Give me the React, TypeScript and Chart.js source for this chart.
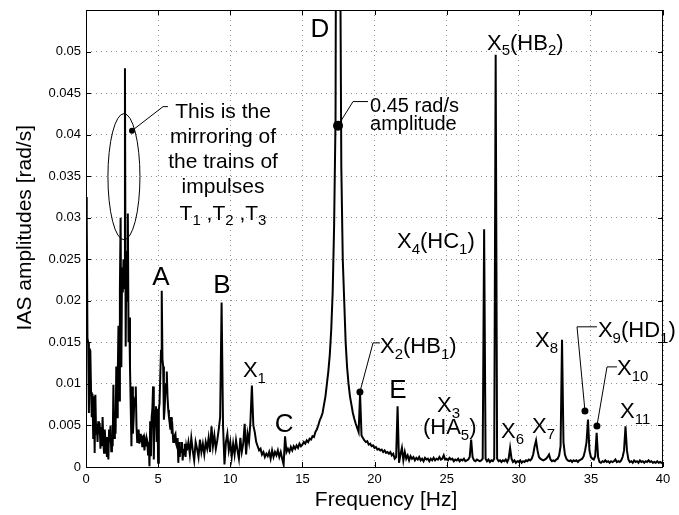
import React, { useEffect, useRef } from "react";
import { Chart, registerables } from "chart.js";

Chart.register(...registerables);

const FONT = "'Liberation Sans', Arial, Helvetica, sans-serif";

// ---- Axis ticks ----
const xTickValues = [0, 5, 10, 15, 20, 25, 30, 35, 40];
const xTickLabels = ["0", "5", "10", "15", "20", "25", "30", "35", "40"];
const yTickValues = [0, 0.005, 0.01, 0.015, 0.02, 0.025, 0.03, 0.035, 0.04, 0.045, 0.05];
const yTickLabels = ["0", "0.005", "0.01", "0.015", "0.02", "0.025", "0.03", "0.035", "0.04", "0.045", "0.05"];

// ---- Spectrum (IAS amplitude, rad/s) ----
// 0.00 .. 7.00 Hz, step 0.05 Hz
const lowBandStart = 0;
const lowBandStep = 0.05;
const lowBandAmp = [
  0.0325, 0.0300, 0.0155, 0.0150, 0.0065, 0.0142, 0.0140, 0.0090, 0.0060, 0.0088,
  0.0035, 0.0085, 0.0017, 0.0087, 0.0040, 0.0052, 0.0030, 0.0055, 0.0040, 0.0053,
  0.0022, 0.0048, 0.0025, 0.0060, 0.0030, 0.0017, 0.0045, 0.0030, 0.0036, 0.0012,
  0.0028, 0.0009, 0.0045, 0.0030, 0.0050, 0.0019, 0.0035, 0.0025, 0.0099, 0.0035,
  0.0060, 0.0040, 0.0121, 0.0060, 0.0109, 0.0170, 0.0080, 0.0215, 0.0300, 0.0120,
  0.0240, 0.0210, 0.0250, 0.0215, 0.0480, 0.0145, 0.0260, 0.0200, 0.0305, 0.0150,
  0.0180, 0.0120, 0.0073, 0.0025, 0.0097, 0.0040, 0.0057, 0.0080, 0.0077, 0.0097,
  0.0049, 0.0030, 0.0033, 0.0045, 0.0028, 0.0040, 0.0030, 0.0038, 0.0025, 0.0035,
  0.0037, 0.0020, 0.0030, 0.0025, 0.0035, 0.0031, 0.0015, 0.0030, 0.0001, 0.0055,
  0.0013, 0.0060, 0.0069, 0.0097, 0.0009, 0.0069, 0.0049, 0.0073, 0.0030, 0.0070,
  0.0005, 0.0069, 0.0077, 0.0110, 0.0140, 0.0212, 0.0130, 0.0121, 0.0057, 0.0070,
  0.0089, 0.0100, 0.0115, 0.0085, 0.0069, 0.0060, 0.0053, 0.0045, 0.0060, 0.0040,
  0.0045, 0.0030, 0.0033, 0.0038, 0.0040, 0.0028, 0.0025, 0.0035, 0.0005, 0.0030,
  0.0012, 0.0025, 0.0018, 0.0030, 0.0008, 0.0022, 0.0015, 0.0028, 0.0012, 0.0025,
  0.0020,
];

// 7.1 .. 16.0 Hz, step 0.1 Hz
const midBandStart = 7.1;
const midBandStep = 0.1;
const midBandAmp = [
  0.0030, 0.0015, 0.0035, 0.0020, 0.0008, 0.0030, 0.0022, 0.0012, 0.0033, 0.0018,
  0.0028, 0.0015, 0.0030, 0.0022, 0.0035, 0.0018, 0.0049, 0.0025, 0.0038, 0.0022,
  0.0032, 0.0045, 0.0060, 0.0198, 0.0050, 0.0003, 0.0030, 0.0040, 0.0020, 0.0030,
  0.0012, 0.0028, 0.0015, 0.0032, 0.0020, 0.0010, 0.0035, 0.0018, 0.0028, 0.0052,
  0.0015, 0.0040, 0.0030, 0.0055, 0.0098, 0.0050, 0.0042, 0.0030, 0.0025, 0.0020,
  0.0022, 0.0015, 0.0018, 0.0012, 0.0016, 0.0013, 0.0018, 0.0010, 0.0020, 0.0012,
  0.0018, 0.0014, 0.0020, 0.0012, 0.0018, 0.0010, 0.0003, 0.0037, 0.0018, 0.0022,
  0.0018, 0.0024, 0.0020, 0.0025, 0.0022, 0.0026, 0.0023, 0.0028, 0.0025, 0.0027,
  0.0030, 0.0028, 0.0032, 0.0030, 0.0034, 0.0033, 0.0037, 0.0036, 0.0042, 0.0045,
];

// 16.1 .. 21.0 Hz, step 0.1 Hz (peak D, 0.45 rad/s)
const dBandStart = 16.1;
const dBandStep = 0.1;
const dBandAmp = [
  0.0050, 0.0056, 0.0060, 0.0065, 0.0075, 0.0085, 0.0100, 0.0115, 0.0135, 0.0165,
  0.0210, 0.0290, 0.0420, 0.1200, 0.4500, 0.0700, 0.0360, 0.0250, 0.0200, 0.0150,
  0.0120, 0.0100, 0.0085, 0.0075, 0.0065, 0.0058, 0.0052, 0.0047, 0.0042, 0.0088,
  0.0038, 0.0035, 0.0032, 0.0030, 0.0031, 0.0027, 0.0028, 0.0025, 0.0026, 0.0023,
  0.0024, 0.0021, 0.0022, 0.0020, 0.0021, 0.0018, 0.0020, 0.0017, 0.0018, 0.0016,
];

// 21.1 .. 40.0 Hz, step 0.1 Hz
const highBandStart = 21.1;
const highBandStep = 0.1;
const highBandAmp = [
  0.0018, 0.0014, 0.0016, 0.0010, 0.0012, 0.0073, 0.0005, 0.0015, 0.0023, 0.0008,
  0.0018, 0.0010, 0.0014, 0.0008, 0.0013, 0.0010, 0.0012, 0.0008, 0.0011, 0.0009,
  0.0012, 0.0008, 0.0010, 0.0007, 0.0011, 0.0009, 0.0010, 0.0007, 0.0010, 0.0008,
  0.0011, 0.0008, 0.0010, 0.0009, 0.0012, 0.0009, 0.0010, 0.0014, 0.0009, 0.0010,
  0.0008, 0.0011, 0.0009, 0.0010, 0.0007, 0.0009, 0.0008, 0.0010, 0.0007, 0.0009,
  0.0008, 0.0010, 0.0007, 0.0008, 0.0009, 0.0012, 0.0033, 0.0012, 0.0008, 0.0007,
  0.0009, 0.0008, 0.0007, 0.0008, 0.0010, 0.0286, 0.0010, 0.0007, 0.0009, 0.0006,
  0.0008, 0.0007, 0.0010, 0.0496, 0.0010, 0.0007, 0.0008, 0.0006, 0.0008, 0.0007,
  0.0009, 0.0006, 0.0010, 0.0023, 0.0010, 0.0006, 0.0008, 0.0005, 0.0007, 0.0006,
  0.0008, 0.0005, 0.0007, 0.0006, 0.0008, 0.0007, 0.0009, 0.0008, 0.0010, 0.0015,
  0.0025, 0.0032, 0.0020, 0.0012, 0.0010, 0.0009, 0.0008, 0.0009, 0.0010, 0.0012,
  0.0015, 0.0009, 0.0007, 0.0008, 0.0007, 0.0009, 0.0010, 0.0014, 0.0025, 0.0153,
  0.0030, 0.0015, 0.0010, 0.0008, 0.0007, 0.0008, 0.0006, 0.0008, 0.0007, 0.0008,
  0.0006, 0.0008, 0.0009, 0.0010, 0.0013, 0.0020, 0.0030, 0.0057, 0.0020, 0.0012,
  0.0010, 0.0009, 0.0013, 0.0041, 0.0012, 0.0006, 0.0005, 0.0007, 0.0006, 0.0008,
  0.0006, 0.0007, 0.0005, 0.0007, 0.0006, 0.0007, 0.0009, 0.0006, 0.0007, 0.0006,
  0.0008, 0.0012, 0.0020, 0.0049, 0.0020, 0.0009, 0.0006, 0.0007, 0.0005, 0.0008,
  0.0006, 0.0007, 0.0005, 0.0008, 0.0006, 0.0007, 0.0005, 0.0007, 0.0006, 0.0008,
  0.0006, 0.0007, 0.0005, 0.0006, 0.0005, 0.0007, 0.0005, 0.0006, 0.0005, 0.0006,
];

// ---- Annotations (data coordinates: Hz, rad/s) ----
const letterLabels = [
  { text: "D", f: 16.22, v: 0.0517 },
  { text: "A", f: 5.2, v: 0.0219 },
  { text: "B", f: 9.43, v: 0.021 },
  { text: "C", f: 13.73, v: 0.0042 },
  { text: "E", f: 21.63, v: 0.0083 },
];
const peakLabels = [
  { text: "X_{1}", f: 10.88, v: 0.01084 },
  { text: "X_{2}(HB_{1})", f: 20.38, v: 0.01373 },
  { text: "X_{3}", f: 24.33, v: 0.00663 },
  { text: "(HA_{5})", f: 23.36, v: 0.00398 },
  { text: "X_{4}(HC_{1})", f: 21.56, v: 0.02639 },
  { text: "X_{5}(HB_{2})", f: 27.8, v: 0.05024 },
  { text: "X_{6}", f: 28.77, v: 0.00349 },
  { text: "X_{7}", f: 30.92, v: 0.0041 },
  { text: "X_{8}", f: 31.13, v: 0.01446 },
  { text: "X_{9}(HD_{1})", f: 35.49, v: 0.01566 },
  { text: "X_{10}", f: 36.81, v: 0.01108 },
  { text: "X_{11}", f: 37.02, v: 0.0059 },
];
const noteLines = [
  { text: "This is the", v: 0.04205 },
  { text: "mirroring of", v: 0.03904 },
  { text: "the trains of", v: 0.03602 },
  { text: "impulses", v: 0.03301 },
  { text: "T_{1} ,T_{2} ,T_{3}", v: 0.02976 },
];
const noteCenterF = 9.5;
const ampNote = [
  { text: "0.45 rad/s", f: 19.69, v: 0.04277 },
  { text: "amplitude", f: 19.69, v: 0.0406 },
];
const leaders = [
  [[3.19, 0.04048], [5.34, 0.04337], [5.68, 0.04337]],
  [[17.47, 0.04108], [18.51, 0.04398], [19.55, 0.04398]],
  [[18.99, 0.00904], [19.9, 0.01494], [20.38, 0.01494]],
  [[34.59, 0.00675], [34.04, 0.01687], [35.42, 0.01687]],
  [[35.42, 0.00494], [36.12, 0.01205], [36.81, 0.01205]],
];
const markerDots = [
  { f: 3.19, v: 0.04048, r: 3 },
  { f: 17.47, v: 0.04108, r: 5 },
  { f: 18.99, v: 0.00904, r: 3.5 },
  { f: 34.59, v: 0.00675, r: 3.5 },
  { f: 35.42, v: 0.00494, r: 3.5 },
];
const clusterEllipse = { f: 2.63, v: 0.03494, rf: 1.11, rv: 0.00759 };

function band(start: number, step: number, amps: number[]) {
  return amps.map((a, i) => ({ x: +(start + i * step).toFixed(3), y: a }));
}

function parseRich(text: string) {
  const segs: { t: string; sub: boolean }[] = [];
  const re = /_\{([^}]*)\}/g;
  let last = 0;
  let m: RegExpExecArray | null;
  while ((m = re.exec(text))) {
    if (m.index > last) segs.push({ t: text.slice(last, m.index), sub: false });
    segs.push({ t: m[1], sub: true });
    last = m.index + m[0].length;
  }
  if (last < text.length) segs.push({ t: text.slice(last), sub: false });
  return segs;
}

function drawRich(ctx: CanvasRenderingContext2D, text: string, x: number, y: number, size: number, align: "left" | "center") {
  const segs = parseRich(text);
  const subSize = Math.round(size * 0.7);
  let total = 0;
  const widths = segs.map((s) => {
    ctx.font = `${s.sub ? subSize : size}px ${FONT}`;
    const w = ctx.measureText(s.t).width;
    total += w;
    return w;
  });
  let cx = align === "center" ? x - total / 2 : x;
  ctx.textAlign = "left";
  ctx.textBaseline = "alphabetic";
  segs.forEach((s, i) => {
    ctx.font = `${s.sub ? subSize : size}px ${FONT}`;
    ctx.fillText(s.t, cx, s.sub ? y + size * 0.27 : y);
    cx += widths[i];
  });
}

const decorPlugin = {
  id: "decor",
  afterDatasetsDraw(chart: any) {
    const ctx: CanvasRenderingContext2D = chart.ctx;
    const { left, right, top, bottom } = chart.chartArea;
    const xs = chart.scales.x;
    const ys = chart.scales.y;
    const X = (f: number) => xs.getPixelForValue(f);
    const Y = (v: number) => ys.getPixelForValue(v);
    ctx.save();
    ctx.fillStyle = "#000";
    ctx.strokeStyle = "#000";

    // frame
    ctx.lineWidth = 1;
    ctx.strokeRect(Math.round(left) + 0.5, Math.round(top) + 0.5, Math.round(right - left) - 1, Math.round(bottom - top));

    // inward ticks
    const tl = 5;
    ctx.beginPath();
    xTickValues.forEach((t) => {
      const px = Math.round(X(t)) + 0.5;
      ctx.moveTo(px, bottom);
      ctx.lineTo(px, bottom - tl);
      ctx.moveTo(px, top);
      ctx.lineTo(px, top + tl);
    });
    yTickValues.forEach((t) => {
      const py = Math.round(Y(t)) + 0.5;
      ctx.moveTo(left, py);
      ctx.lineTo(left + tl, py);
      ctx.moveTo(right, py);
      ctx.lineTo(right - tl, py);
    });
    ctx.stroke();

    // ellipse around the cluster
    ctx.lineWidth = 1;
    ctx.beginPath();
    const ecx = X(clusterEllipse.f);
    const ecy = Y(clusterEllipse.v);
    const erx = X(clusterEllipse.f + clusterEllipse.rf) - ecx;
    const ery = ecy - Y(clusterEllipse.v + clusterEllipse.rv);
    ctx.ellipse(ecx, ecy, erx, ery, 0, 0, Math.PI * 2);
    ctx.stroke();

    // leader lines
    ctx.lineWidth = 1;
    leaders.forEach((pts) => {
      ctx.beginPath();
      pts.forEach(([f, v], i) => {
        if (i === 0) ctx.moveTo(X(f), Y(v));
        else ctx.lineTo(X(f), Y(v));
      });
      ctx.stroke();
    });

    // dots
    markerDots.forEach((d) => {
      ctx.beginPath();
      ctx.arc(X(d.f), Y(d.v), d.r, 0, Math.PI * 2);
      ctx.fill();
    });

    // labels
    letterLabels.forEach((l) => drawRich(ctx, l.text, X(l.f), Y(l.v), 26, "center"));
    peakLabels.forEach((l) => drawRich(ctx, l.text, X(l.f), Y(l.v), 22, "left"));
    noteLines.forEach((l) => drawRich(ctx, l.text, X(noteCenterF), Y(l.v), 21, "center"));
    ampNote.forEach((l) => drawRich(ctx, l.text, X(l.f), Y(l.v), 20, "left"));

    // axis titles
    ctx.font = `21px ${FONT}`;
    ctx.textAlign = "center";
    ctx.textBaseline = "alphabetic";
    ctx.fillText("Frequency [Hz]", X(20.8), bottom + 39);
    ctx.save();
    ctx.translate(left - 61, Y(0.0288));
    ctx.rotate(-Math.PI / 2);
    ctx.textBaseline = "middle";
    ctx.fillText("IAS amplitudes [rad/s]", 0, 0);
    ctx.restore();

    ctx.restore();
  },
};

export default function App() {
  const ref = useRef<HTMLCanvasElement | null>(null);
  useEffect(() => {
    const canvas = ref.current;
    if (!canvas) return;
    const points = [
      ...band(lowBandStart, lowBandStep, lowBandAmp),
      ...band(midBandStart, midBandStep, midBandAmp),
      ...band(dBandStart, dBandStep, dBandAmp),
      ...band(highBandStart, highBandStep, highBandAmp),
    ];
    const chart = new Chart(canvas, {
      type: "line",
      data: {
        datasets: [
          {
            data: points,
            borderColor: "#000",
            borderWidth: 2,
            pointRadius: 0,
            tension: 0,
            fill: false,
          },
        ],
      },
      options: {
        animation: false,
        responsive: false,
        maintainAspectRatio: false,
        devicePixelRatio: 1,
        layout: { padding: { left: 0, right: 16, top: 10, bottom: 0 } },
        plugins: { legend: { display: false }, tooltip: { enabled: false } },
        scales: {
          x: {
            type: "linear",
            min: 0,
            max: 40,
            afterBuildTicks: (s: any) => {
              s.ticks = xTickValues.map((v) => ({ value: v }));
            },
            afterFit: (s: any) => {
              s.height = 48;
              s.paddingLeft = 0;
              s.paddingRight = 0;
            },
            ticks: {
              stepSize: 5,
              autoSkip: false,
              maxRotation: 0,
              padding: 5,
              color: "#000",
              font: { family: FONT, size: 13 },
              callback: (_v: any, i: number) => xTickLabels[i],
            },
            grid: { color: "#8c8c8c", lineWidth: 1, drawTicks: false },
            border: { display: false, dash: [1, 4] },
          },
          y: {
            type: "linear",
            min: 0,
            max: 0.055,
            afterBuildTicks: (s: any) => {
              s.ticks = yTickValues.map((v) => ({ value: v }));
            },
            afterFit: (s: any) => {
              s.width = 86;
              s.paddingTop = 0;
              s.paddingBottom = 0;
            },
            ticks: {
              stepSize: 0.005,
              autoSkip: false,
              padding: 5,
              color: "#000",
              font: { family: FONT, size: 13 },
              callback: (_v: any, i: number) => yTickLabels[i],
            },
            grid: { color: "#8c8c8c", lineWidth: 1, drawTicks: false },
            border: { display: false, dash: [1, 4] },
          },
        },
      },
      plugins: [decorPlugin],
    } as any);
    return () => chart.destroy();
  }, []);
  return (
    <div style={{ position: "fixed", left: 0, top: 0, width: 679, height: 515, background: "#fff" }}>
      <canvas ref={ref} width={679} height={515} style={{ display: "block", width: 679, height: 515 }} />
    </div>
  );
}
